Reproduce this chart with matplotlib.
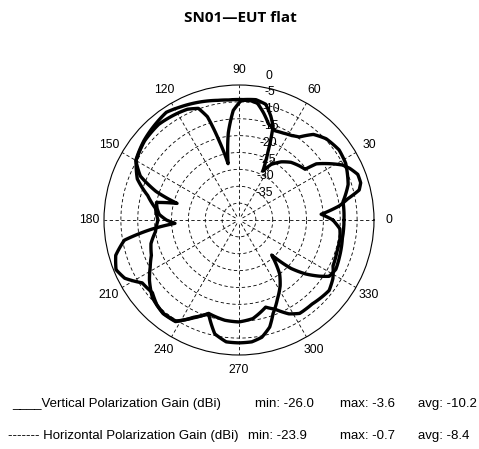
import numpy as np
import matplotlib
matplotlib.use("Agg")
import matplotlib.pyplot as plt
from matplotlib.transforms import offset_copy

# ---------------- data ----------------
v_angles = [0, 10, 18, 28, 35, 43, 49, 54, 58, 63, 68, 73, 77, 81, 85, 89, 93, 97, 101, 104, 107, 110,
            115, 120, 130, 140, 150, 158, 165, 172, 180, 188, 195, 202, 208, 214, 222, 231, 238, 245,
            252, 258, 264, 270, 276, 281, 286, 290, 296, 302, 307, 313, 317, 321, 325, 328, 333, 340, 350]
v_gain = [-8.9, -8.7, -6.0, -4.2, -3.8, -4.7, -6.4, -9.6, -10.5, -11.1, -11.5, -10.2, -7.5, -5.0, -4.4,
          -4.6, -7.5, -14.0, -23.0, -16.0, -8.0, -4.8, -3.8, -3.5, -3.0, -3.5, -4.8, -7.5, -12.0, -15.0,
          -16.0, -15.0, -13.0, -12.0, -10.2, -8.0, -5.5, -4.3, -4.5, -8.2, -10.8, -5.5, -3.7, -3.6, -3.7,
          -4.6, -7.0, -10.5, -14.0, -17.0, -20.0, -25.8, -19.0, -14.6, -11.0, -8.5, -7.8, -8.3, -8.9]

h_angles = [0, 4, 8, 11, 14, 17, 21, 25, 28, 32, 36, 37.5, 42, 48, 54, 60, 64, 67, 70, 73, 77, 82, 88,
            95, 100, 108, 118, 124, 130, 140, 150, 156, 161, 165, 168, 172, 176, 180, 183, 186, 190, 196,
            202, 207, 213, 220, 226, 231, 238, 245, 252, 262, 270, 278, 287, 292, 298, 303, 311, 317, 322,
            328, 334, 342, 350, 355]
h_gain = [-12.2, -15.6, -10.0, -7.2, -3.3, -2.3, -2.3, -3.8, -5.3, -8.5, -11.7, -15.3, -16.0, -17.0,
          -18.7, -21.0, -23.9, -18.0, -10.5, -7.8, -4.8, -4.0, -4.3, -4.3, -4.0, -3.2, -2.2, -1.5, -2.2,
          -3.3, -4.7, -8.0, -14.0, -21.0, -15.0, -15.5, -16.3, -18.5, -21.0, -14.0, -5.5, -2.0, -0.7, -2.0,
          -5.8, -6.5, -5.0, -4.4, -4.7, -8.0, -10.9, -10.0, -9.8, -10.5, -13.0, -11.5, -8.5, -7.0, -7.0,
          -6.5, -6.1, -7.2, -9.0, -9.5, -9.6, -10.0]

ring_values = [0, -5, -10, -15, -20, -25, -30, -35]
angle_ticks = [0, 30, 60, 90, 120, 150, 180, 210, 240, 270, 300, 330]
r_min, r_max = -40, 0

title = "SN01\u2014EUT flat"
leg_rows = [
    ("____Vertical Polarization Gain (dBi)", "min: -26.0", "max: -3.6", "avg: -10.2"),
    ("------- Horizontal Polarization Gain (dBi)", "min: -23.9", "max: -0.7", "avg: -8.4"),
]

# ---------------- figure ----------------
W, H = 479, 449
fig = plt.figure(figsize=(W / 100, H / 100), dpi=100)
fig.patch.set_facecolor("white")

cx, cy, R = 239, 220, 135
ax = fig.add_axes([(cx - R) / W, (H - cy - R) / H, 2 * R / W, 2 * R / H], projection="polar")
ax.set_ylim(r_min, r_max)
ax.set_xticks([])
ax.set_yticks([])
ax.grid(False)
ax.spines["polar"].set_linewidth(0.8)
ax.spines["polar"].set_color("black")

dash = (0, (4, 3))
th = np.linspace(0, 2 * np.pi, 400)
for rv in ring_values[1:]:
    ax.plot(th, np.full_like(th, rv), color="black", lw=0.6, ls=dash)
for a in angle_ticks:
    ax.plot([np.deg2rad(a)] * 2, [r_min + 1.2, r_max], color="black", lw=0.6, ls=dash)

font = "Liberation Sans"
lab_r = r_max + (r_max - r_min) * 0.111
for a in angle_ticks:
    ax.text(np.deg2rad(a), lab_r, str(a), ha="center", va="center", fontsize=8.7,
            family=font, clip_on=False)

off = offset_copy(ax.transData, fig=fig, x=15, y=10, units="dots")
for rv in ring_values:
    ax.text(np.deg2rad(85), rv, str(rv), transform=off, ha="left", va="center",
            fontsize=8.7, family=font, clip_on=False)

def closed(a, g):
    a = np.deg2rad(np.array(a + [a[0] + 360], dtype=float))
    g = np.array(g + [g[0]], dtype=float)
    return a, g

for angs, gains in ((v_angles, v_gain), (h_angles, h_gain)):
    ta, tg = closed(angs, gains)
    ln, = ax.plot(ta, tg, color="black", lw=2.4, solid_joinstyle="round",
                  solid_capstyle="round", clip_on=False)
    ln.get_path()._interpolation_steps = 12

fig.text(240 / W, 1 - 18 / H, title, ha="center", va="center", fontsize=11,
         fontweight="bold", family="Open Sans")

row_y = [404, 436]
col_x = [[12, 255, 340, 418], [8, 248, 340, 418]]
for (texts, y, xs) in zip(leg_rows, row_y, col_x):
    for t, x in zip(texts, xs):
        fig.text(x / W, 1 - y / H, t, ha="left", va="center", fontsize=9.5, family=font)

fig.savefig("out.png", dpi=100, facecolor="white")
